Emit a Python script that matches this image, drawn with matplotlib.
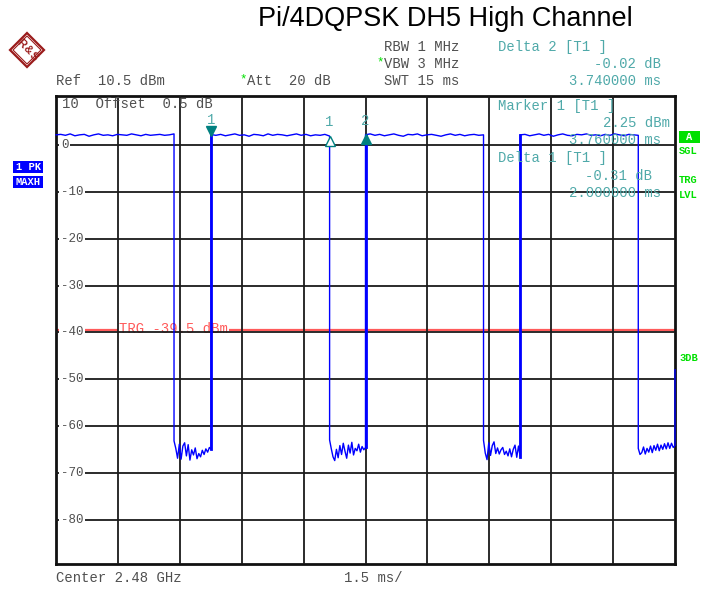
import matplotlib
matplotlib.use("Agg")
import matplotlib.pyplot as plt
import numpy as np
from matplotlib.transforms import blended_transform_factory, offset_copy
from matplotlib.patches import Polygon, Rectangle

# ---- analyzer settings -------------------------------------------------
title = "Pi/4DQPSK DH5 High Channel"
sweep_ms = 15.0
ref_level = 10.5
level_range = 100.0
trigger_level = -39.5
level_ticks = [0, -10, -20, -30, -40, -50, -60, -70, -80]

# ---- trace: four DH5 bursts with noise-floor gaps ----------------------
burst_start = [0.00, 3.76, 7.50, 11.25]
burst_end = [2.86, 6.63, 10.36, 14.11]

burst1 = [2.2, 2.3, 2.1, 2.4, 2.0, 2.2, 2.3, 1.9, 2.2, 2.4, 2.1, 2.2, 2.0,
          2.3, 2.2, 2.1, 2.4, 2.2, 2.0, 2.3, 2.1, 2.2, 2.3, 2.1, 2.2, 2.4]
burst2 = [2.25, 2.1, 2.3, 2.0, 2.2, 2.4, 2.1, 2.2, 1.9, 2.3, 2.2, 2.0, 2.4,
          2.1, 2.3, 2.2, 2.0, 2.2, 2.4, 2.1, 2.3, 2.0, 2.2, 2.1, 2.3, 1.94]
burst3 = [2.23, 2.4, 2.1, 2.3, 2.0, 2.2, 2.4, 2.1, 1.9, 2.3, 2.2, 2.4, 2.0,
          2.2, 2.3, 2.1, 1.9, 2.2, 2.4, 2.1, 2.3, 2.0, 2.2, 2.3, 2.1, 2.2]
burst4 = [2.2, 2.3, 2.0, 2.2, 2.4, 2.1, 2.3, 1.9, 2.2, 2.4, 2.1, 2.0, 2.3,
          2.2, 2.4, 2.1, 2.2, 2.0, 2.3, 2.1, 2.4, 2.2, 2.0, 2.3, 2.2, 2.1]

gap1 = [-63.2, -64.8, -66.9, -63.9, -67.1, -64.3, -63.6, -66.4, -64.0,
        -67.3, -65.1, -66.2, -64.7, -67.0, -65.9, -66.6, -65.2, -66.1,
        -64.9, -65.6, -64.6, -65.0]
gap2 = [-63.0, -64.9, -66.6, -67.4, -65.0, -66.8, -64.2, -66.1, -63.7,
        -65.4, -66.9, -64.1, -65.8, -63.5, -66.2, -64.8, -65.3, -63.9,
        -65.6, -64.4, -65.1, -64.6]
gap3 = [-63.1, -65.8, -67.2, -63.6, -66.3, -64.2, -63.4, -65.9, -64.7,
        -66.0, -65.1, -64.6, -66.1, -65.4, -66.4, -64.9, -66.6, -65.0,
        -64.1, -66.7, -64.3, -66.6]
gap4 = [-64.8, -66.1, -65.7, -64.5, -66.0, -64.8, -65.6, -64.3, -65.7,
        -64.2, -65.2, -63.9, -65.3, -64.1, -65.0, -63.8, -64.9, -63.6,
        -64.8, -63.7, -64.6, -64.2]
tail_level = -48.0

bursts = [burst1, burst2, burst3, burst4]
gaps = [gap1, gap2, gap3, gap4]

# ---- markers -----------------------------------------------------------
marker1_time = 3.76
marker1_level = 2.25
delta1_time = 6.63
delta1_db = -0.31
delta2_time = 7.50
delta2_db = -0.02

# ---- colours / fonts ---------------------------------------------------
TRACE = "#0000ff"
TEAL = "#4fa9a9"
TEAL_DARK = "#008080"
GREEN = "#00e000"
RED = "#ff5a5a"
GRAY = "#505050"
MONO = "Liberation Mono"

W, H = 704, 590
fig = plt.figure(figsize=(W / 100, H / 100), dpi=100)
fig.patch.set_facecolor("white")


def fx(px):
    return px / W


def fy(py):
    return 1 - py / H


left, right, top, bottom = 56, 675, 96, 564
ax = fig.add_axes([fx(left), fy(bottom), (right - left) / W, (bottom - top) / H])
ax.set_xlim(0, sweep_ms)
ax.set_ylim(ref_level - level_range, ref_level)

# graticule
ax.set_xticks(np.arange(1.5, sweep_ms, 1.5))
ax.set_yticks(level_ticks)
ax.tick_params(length=0, labelbottom=False, labelleft=False)
ax.grid(True, color="#1a1a1a", lw=1.3, zorder=2)
ax.set_axisbelow(False)
for sp in ax.spines.values():
    sp.set_linewidth(2.0)
    sp.set_color("#111111")

# level labels sit inside the grid on a white patch
lab_tr = blended_transform_factory(fig.transFigure, ax.transData)
for lv in level_ticks:
    ax.text(fx(61), lv, f"{lv}", transform=lab_tr, family=MONO, fontsize=9,
            color=GRAY, va="center", ha="left", zorder=4,
            bbox=dict(boxstyle="square,pad=0.15", fc="white", ec="none"))

# trigger level line
ax.axhline(trigger_level, color=RED, lw=1.6, zorder=1)
ax.text(fx(119), trigger_level + 0.3, f"TRG {trigger_level} dBm", transform=lab_tr,
        family=MONO, fontsize=10, color=RED, va="center", ha="left", zorder=1.5,
        bbox=dict(boxstyle="square,pad=0.05", fc="white", ec="none"))

# build the trace
t_pts, y_pts = [], []
for i in range(4):
    tb = np.linspace(burst_start[i], burst_end[i], len(bursts[i]))
    t_pts += list(tb)
    y_pts += bursts[i]
    gap_end = burst_start[i + 1] if i < 3 else sweep_ms
    tg = np.linspace(burst_end[i], gap_end, len(gaps[i]))
    t_pts += list(tg)
    y_pts += gaps[i]
t_pts.append(sweep_ms)
y_pts.append(tail_level)
ax.plot(t_pts, y_pts, color=TRACE, lw=1.0, zorder=3, clip_on=False)

# rising edges draw heavier
for i in range(1, 4):
    ax.plot([burst_start[i]] * 2, [gaps[i - 1][-1], bursts[i][0]],
            color=TRACE, lw=2.0, zorder=3)

# marker symbols
up = offset_copy(ax.transData, fig=fig, x=0, y=3.5, units="dots")
down = offset_copy(ax.transData, fig=fig, x=0, y=-4.5, units="dots")
ax.plot(marker1_time, marker1_level, "v", ms=7, color=TEAL_DARK, transform=up,
        zorder=5)
ax.plot(delta1_time, marker1_level + delta1_db, "^", ms=7, mfc="white",
        mec=TEAL_DARK, mew=1.0, transform=down, zorder=5)
ax.plot(delta2_time, marker1_level + delta2_db, "^", ms=7, color=TEAL_DARK,
        transform=down, zorder=5)
lab_up = offset_copy(ax.transData, fig=fig, x=0, y=15, units="dots")
lab_up2 = offset_copy(ax.transData, fig=fig, x=0, y=14, units="dots")
ax.text(marker1_time, marker1_level, "1", transform=lab_up, family=MONO,
        fontsize=10, color=TEAL, ha="center", va="center", zorder=5)
ax.text(delta1_time, marker1_level + delta1_db, "1", transform=lab_up2,
        family=MONO, fontsize=10, color=TEAL, ha="center", va="center", zorder=5)
ax.text(delta2_time, marker1_level + delta2_db, "2", transform=lab_up2,
        family=MONO, fontsize=10, color=TEAL, ha="center", va="center", zorder=5)


def ftext(x, y, s, color=GRAY, ha="left", size=10, **kw):
    fig.text(fx(x), fy(y), s, family=MONO, fontsize=size, color=color, ha=ha,
             va="center", **kw)


# title
fig.text(fx(445), fy(19), title, family="Liberation Sans", fontsize=19.5,
         ha="center", va="center", color="black")

# header block
ftext(384, 47, "RBW 1 MHz")
ftext(384, 64, "VBW 3 MHz")
ftext(376, 62, "*", color=GREEN, size=9)
ftext(384, 81, "SWT 15 ms")
ftext(56, 81, "Ref  10.5 dBm")
ftext(247, 81, "Att  20 dB")
ftext(239, 79, "*", color=GREEN, size=9)
ftext(498, 47, "Delta 2 [T1 ]", color=TEAL)
ftext(661, 64, f"{delta2_db:.2f} dB", color=TEAL, ha="right")
ftext(661, 81, f"{delta2_time - marker1_time:.6f} ms", color=TEAL, ha="right")

# marker readouts inside the screen
ftext(62, 104, "10  Offset  0.5 dB")
ftext(498, 106, "Marker 1 [T1 ]", color=TEAL)
ftext(670, 123, f"{marker1_level:.2f} dBm", color=TEAL, ha="right")
ftext(661, 140, f"{marker1_time:.6f} ms", color=TEAL, ha="right")
ftext(498, 158, "Delta 1 [T1 ]", color=TEAL)
ftext(652, 176, f"{delta1_db:.2f} dB", color=TEAL, ha="right")
ftext(661, 193, "2.000000 ms", color=TEAL, ha="right")

# footer
ftext(56, 578, "Center 2.48 GHz")
ftext(344, 578, "1.5 ms/")

# trace-mode badges on the left
for yc, s in [(167, "1 PK"), (182, "MAXH")]:
    fig.patches.append(Rectangle((fx(13), fy(yc + 6)), 30 / W, 12 / H,
                                 transform=fig.transFigure, fc="#0000ff",
                                 ec="none"))
    fig.text(fx(28), fy(yc), s, family=MONO, fontsize=7.5, weight="bold",
             color="white", ha="center", va="center")

# status column on the right
fig.patches.append(Rectangle((fx(679), fy(143)), 21 / W, 12 / H,
                             transform=fig.transFigure, fc=GREEN, ec="none"))
fig.text(fx(689.5), fy(137), "A", family=MONO, fontsize=7.5, weight="bold",
         color="white", ha="center", va="center")
for yc, s in [(151, "SGL"), (180, "TRG"), (195, "LVL"), (358, "3DB")]:
    fig.text(fx(679), fy(yc), s, family=MONO, fontsize=7.5, weight="bold",
             color=GREEN, ha="left", va="center")

# maker logo: diamond with R & S
cx, cy, r = 27, 50, 17
dia = [(fx(cx), fy(cy - r)), (fx(cx + r), fy(cy)), (fx(cx), fy(cy + r)),
       (fx(cx - r), fy(cy))]
fig.patches.append(Polygon(dia, closed=True, transform=fig.transFigure,
                           fc="white", ec="#9b1c1c", lw=1.6))
r2 = r - 3
dia2 = [(fx(cx), fy(cy - r2)), (fx(cx + r2), fy(cy)), (fx(cx), fy(cy + r2)),
        (fx(cx - r2), fy(cy))]
fig.patches.append(Polygon(dia2, closed=True, transform=fig.transFigure,
                           fc="none", ec="#9b1c1c", lw=0.8))
for dx, dy, s in [(-6, -6, "R"), (0, 0, "&"), (6, 6, "S")]:
    fig.text(fx(cx + dx), fy(cy + dy), s, family="Liberation Sans",
             fontsize=8, color="#9b1c1c", ha="center", va="center",
             rotation=-45, weight="bold")

fig.savefig("out.png", dpi=100, facecolor="white")
